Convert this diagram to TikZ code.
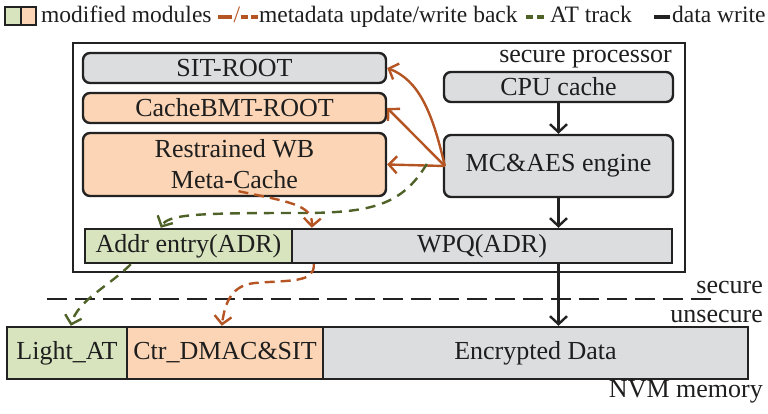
\documentclass[tikz,border=0pt]{standalone}
\usepackage{fontspec}
\setmainfont{Liberation Serif}
\usetikzlibrary{arrows.meta,calc}
\definecolor{grayfill}{RGB}{220,221,223}
\definecolor{orfill}{RGB}{251,213,181}
\definecolor{grfill}{RGB}{215,228,189}
\definecolor{orline}{RGB}{180,85,35}
\definecolor{grline}{RGB}{79,98,40}
\definecolor{bordc}{RGB}{34,34,34}
\definecolor{txtc}{RGB}{30,30,30}
\newcommand\fbig{\fontsize{26}{31}\selectfont}
\newcommand\flegend{\fontsize{23.5}{28}\selectfont}
\begin{document}
\begin{tikzpicture}[x=1pt,y=-1pt,
  box/.style={draw=bordc, line width=2.4pt, inner sep=0pt, font=\fbig, text=txtc},
  rbox/.style={box, rounded corners=7pt},
  tip/.style={-{Straight Barb[length=8pt,width=17pt]}},
  blackarr/.style={draw=bordc, line width=2.4pt, tip},
  orarr/.style={draw=orline, line width=2.4pt, tip},
  ordash/.style={draw=orline, line width=2.4pt, dash pattern=on 10pt off 6pt, tip},
  grdash/.style={draw=grline, line width=2.4pt, dash pattern=on 10pt off 7pt, tip},
  lbl/.style={font=\fbig, text=txtc, inner sep=0pt},
  lgl/.style={font=\flegend, text=txtc, inner sep=0pt, anchor=base west}]
\useasboundingbox (0,0) rectangle (768,414);

% legend
\node[draw=bordc, line width=2.4pt, fill=grfill, minimum width=16pt, minimum height=18pt, inner sep=0pt] (lgsq1) at (13,16) {};
\node[draw=bordc, line width=2.4pt, fill=orfill, minimum width=15pt, minimum height=18pt, inner sep=0pt] (lgsq2) at (28.5,16) {};
\node[lgl] (lgt1) at (41,23) {modified modules};
\draw[orline, line width=3.5pt] (218,17) -- (232,17);
\node[font=\flegend, text=orline, inner sep=0pt, anchor=base] (lgslash) at (237,23) {/};
\draw[orline, line width=3.5pt] (241,17) -- (248,17);
\draw[orline, line width=3.5pt] (251,17) -- (258,17);
\node[lgl] (lgt2) at (259,23) {metadata update/write back};
\draw[grline, line width=3.5pt] (526,17) -- (533,17);
\draw[grline, line width=3.5pt] (537,17) -- (544,17);
\node[lgl] (lgt3) at (550,23) {AT track};
\draw[bordc, line width=4pt] (654,17) -- (670,17);
\node[lgl] (lgt4) at (672,23) {data write};

% secure processor
\node[box, minimum width=612pt, minimum height=229pt] (proc) at (379,157.5) {};
\node[lbl, anchor=base east] (proclbl) at (672,63) {secure processor};

\node[rbox, fill=grayfill, minimum width=303pt, minimum height=30pt] (sit) at (234.5,68) {SIT-ROOT};
\node[rbox, fill=orfill, minimum width=303pt, minimum height=30pt] (bmt) at (234.5,108) {CacheBMT-ROOT};
\node[rbox, fill=orfill, minimum width=303pt, minimum height=63pt, align=center] (wb) at (234.5,164.5) {Restrained WB\\Meta-Cache};
\node[rbox, fill=grayfill, minimum width=229pt, minimum height=30pt] (cpu) at (558.5,87) {CPU cache};
\node[rbox, fill=grayfill, minimum width=229pt, minimum height=62pt] (mc) at (558.5,166) {MC\&AES engine};
\node[box, fill=grfill, minimum width=207pt, minimum height=34pt] (adr) at (188.5,246) {Addr entry(ADR)};
\node[box, fill=grayfill, minimum width=380pt, minimum height=34pt] (wpq) at (482,246) {WPQ(ADR)};

% memory
\node[box, fill=grfill, minimum width=120pt, minimum height=52pt] (light) at (67,353) {Light\char"5F AT};
\node[box, fill=orfill, minimum width=196pt, minimum height=52pt] (ctr) at (225,353) {Ctr\char"5F DMAC\&SIT};
\node[box, fill=grayfill, minimum width=425pt, minimum height=52pt] (enc) at (535.5,353) {Encrypted Data};

\node[lbl, anchor=base east] (seclbl) at (763,293) {secure};
\node[lbl, anchor=base east] (unseclbl) at (763,322) {unsecure};
\node[lbl, anchor=base east] (nvmlbl) at (763,397) {NVM memory};

% secure / unsecure boundary
\draw[bordc, line width=1.6pt, dash pattern=on 20pt off 8pt] (47,299) -- (711,299);

% data path
\draw[blackarr] (cpu.south) -- (mc.north);
\draw[blackarr] (mc.south) -- (mc.south |- wpq.north);
\draw[blackarr] (wpq.south -| mc.south) -- (enc.north -| mc.south);

% metadata update (solid)
\draw[orarr] ([xshift=2pt]mc.west) .. controls (432,110) and (418,80) .. (sit.east);
\draw[orarr] ([xshift=2pt]mc.west) -- (bmt.east);
\draw[orarr] ([xshift=2pt]mc.west) -- (wb.east);

% AT track
\draw[grdash] ([xshift=-16pt, yshift=2pt]mc.west) .. controls (402,205) and (372,213) .. (300,213)
   .. controls (200,213) and (168,214) .. ([xshift=77pt]adr.north west);
\draw[grdash] ([xshift=47pt]adr.south west) .. controls (108,287) and (78,300) .. ([xshift=65pt]light.north west);

% write back (dashed)
\draw[ordash] ([xshift=4pt, yshift=6pt]wb.south) .. controls (290,202) and (313,205) .. ([xshift=21pt]wpq.north west);
\draw[ordash] ([xshift=23pt]wpq.south west) .. controls (315,283) and (290,280) .. (255,283)
   .. controls (232,285) and (225,302) .. ([xshift=96pt]ctr.north west);
\end{tikzpicture}
\end{document}
